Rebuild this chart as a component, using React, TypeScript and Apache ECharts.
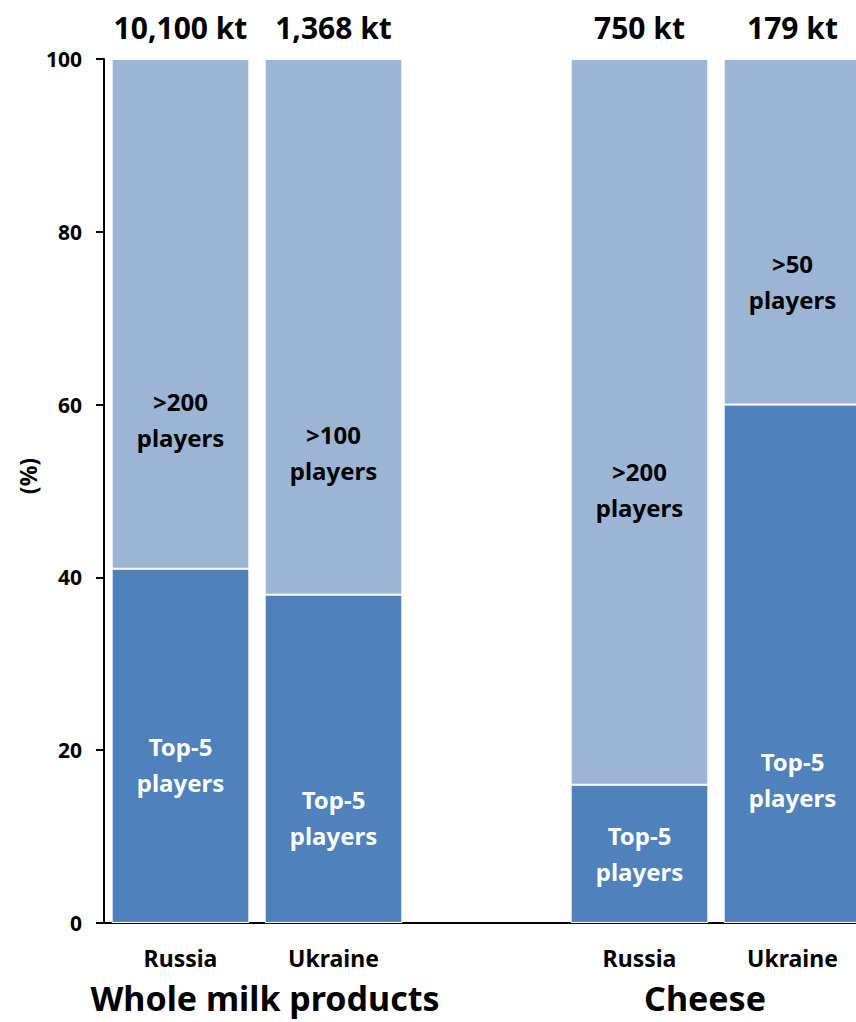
import React, { useEffect, useRef } from "react";
import * as echarts from "echarts";

const categories = ["Russia", "Ukraine", "", "Russia", "Ukraine"];
const top5Share = [41, 38, "-", 16, 60];
const otherShare = [59, 62, "-", 84, 40];
const volumes = ["10,100 kt", "1,368 kt", "", "750 kt", "179 kt"];
const otherLabels = [">200\nplayers", ">100\nplayers", "", ">200\nplayers", ">50\nplayers"];
const top5Labels = ["Top-5\nplayers", "Top-5\nplayers", "", "Top-5\nplayers", "Top-5\nplayers"];
const groups = [
  { name: "Whole milk products", x: 265 },
  { name: "Cheese", x: 705 },
];
const yTicks = [0, 20, 40, 60, 80, 100];

const FONT = "'Noto Sans', 'Open Sans', sans-serif";
const otherOffsets = [106, 126, 0, 68, 50];
const top5Offsets = [19, 59, 0, 0, 116];

export default function App() {
  const ref = useRef<HTMLDivElement>(null);
  useEffect(() => {
    if (!ref.current) return;
    const chart = echarts.init(ref.current, null, { renderer: "svg" });
    chart.setOption({
      animation: false,
      textStyle: { fontFamily: FONT },
      grid: { left: 104, right: -13, top: 59, bottom: 99, containLabel: false, outerBoundsMode: "none" },
      xAxis: {
        type: "category",
        data: categories,
        axisLine: { lineStyle: { color: "#000", width: 2 } },
        axisTick: { show: false },
        axisLabel: {
          color: "#000",
          fontWeight: "bold",
          fontSize: 23,
          fontFamily: FONT,
          margin: 23,
        },
      },
      yAxis: {
        type: "value",
        min: 0,
        max: 100,
        interval: 20,
        axisLine: { show: true, lineStyle: { color: "#000", width: 2 } },
        axisTick: { show: true, length: 8, lineStyle: { color: "#000", width: 2 } },
        splitLine: { show: false },
        axisLabel: {
          color: "#000",
          fontWeight: "bold",
          fontSize: 21,
          fontFamily: FONT,
          margin: 22,
          formatter: (v: number) => (yTicks.includes(v) ? String(v) : ""),
        },
      },
      series: [
        {
          type: "bar",
          stack: "s",
          barCategoryGap: "10%",
          data: top5Share.map((v, i) => ({
            value: v,
            label: {
              show: v !== "-",
              position: "inside",
              offset: [0, top5Offsets[i]],
              formatter: () => top5Labels[i],
            },
          })),
          itemStyle: { color: "#4F81BD", borderColor: "#fff", borderWidth: 1 },
          label: {
            color: "#fff",
            fontWeight: "bold",
            fontSize: 24,
            lineHeight: 36,
            fontFamily: FONT,
          },
        },
        {
          type: "bar",
          stack: "s",
          barCategoryGap: "10%",
          data: otherShare.map((v, i) => ({
            value: v,
            label: {
              show: v !== "-",
              position: "inside",
              offset: [0, otherOffsets[i]],
              formatter: () => otherLabels[i],
            },
          })),
          itemStyle: { color: "#9DB5D4", borderColor: "#fff", borderWidth: 1 },
          label: {
            color: "#000",
            fontWeight: "bold",
            fontSize: 24,
            lineHeight: 36,
            fontFamily: FONT,
          },
        },
        {
          type: "bar",
          stack: "s",
          barCategoryGap: "10%",
          data: volumes.map((v) => (v ? 0 : "-")),
          itemStyle: { color: "transparent" },
          label: {
            show: true,
            position: "top",
            distance: 17,
            color: "#000",
            fontWeight: "bold",
            fontSize: 30,
            fontFamily: FONT,
            formatter: (p: any) => volumes[p.dataIndex],
          },
        },
      ],
      graphic: [
        ...groups.map((g) => ({
          type: "text",
          x: g.x,
          y: 998,
          style: {
            text: g.name,
            fill: "#000",
            font: `bold 34px ${FONT}`,
            textAlign: "center",
            textVerticalAlign: "middle",
          },
        })),
        {
          type: "text",
          x: 28,
          y: 476,
          rotation: Math.PI / 2,
          style: {
            text: "(%)",
            fill: "#000",
            font: `bold 23px ${FONT}`,
            textAlign: "center",
            textVerticalAlign: "middle",
          },
        },
      ],
    });
    return () => chart.dispose();
  }, []);
  return <div ref={ref} style={{ width: 856, height: 1022, position: "absolute", left: 0, top: 0 }} />;
}
